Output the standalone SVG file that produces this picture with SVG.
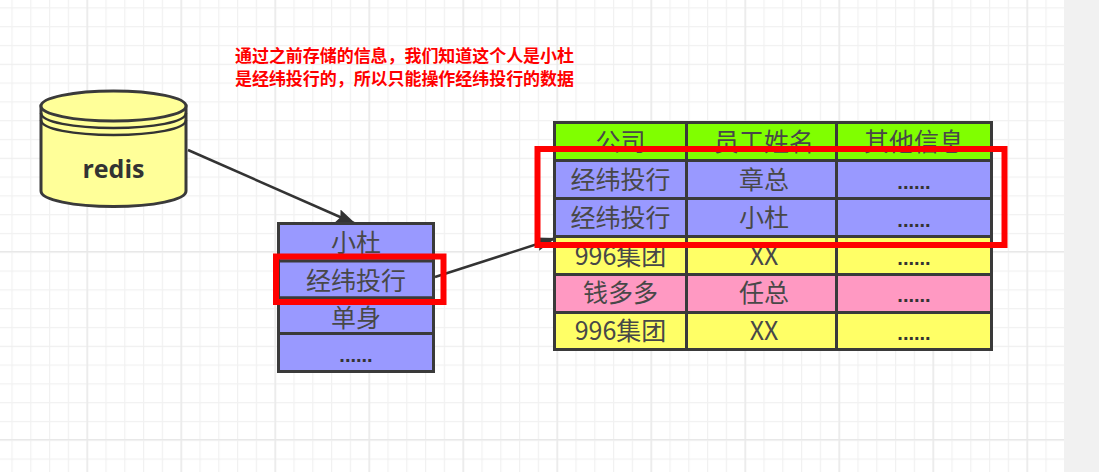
<svg xmlns="http://www.w3.org/2000/svg" width="1099" height="472" viewBox="0 0 1099 472">
<style>
.cell{stroke:#3a3a3a;stroke-width:3}
.t{font-family:"Noto Sans CJK SC","Noto Sans",sans-serif;font-size:25px;fill:#484848;text-anchor:middle}
.d{font-family:"Liberation Sans",sans-serif;font-size:20px;font-weight:700;fill:#333;text-anchor:middle}
.red{font-family:"Noto Sans CJK SC",sans-serif;font-size:17px;font-weight:700;fill:#f00}
.hl{fill:none;stroke:#f00;stroke-width:6}
.c{fill:none;stroke:#333;stroke-width:2.500}
.bl{fill:#9999ff}.gr{fill:#80ff00}.ye{fill:#ffff66}.pi{fill:#ff99c2}
</style>
<defs>
<pattern id="g" width="18.8" height="18.8" patternUnits="userSpaceOnUse" x="-7.4" y="-11.5">
<path d="M0 .5H18.8M.5 0V18.8" fill="none" stroke="#f1f1f1" stroke-width="1.5"/>
</pattern>
<pattern id="G" width="94" height="94" patternUnits="userSpaceOnUse" x="-7.4" y="-31">
<path d="M0 .5H94M.5 0V94" fill="none" stroke="#e8e8e8" stroke-width="1.5"/>
</pattern>
<marker id="a" markerUnits="userSpaceOnUse" markerWidth="22" markerHeight="16" refX="20" refY="8" orient="auto">
<path d="M0 1L20 8L0 15L3 8Z" fill="#333"/>
</marker>
</defs>
<rect width="1099" height="472" fill="#fff"/>
<rect width="1064" height="472" fill="url(#g)"/>
<rect width="1064" height="472" fill="url(#G)"/>
<rect x="1064" width="35" height="472" fill="#f1f1f1"/>
<g id="connectors">
<path class="c" d="M188 150L356 224" marker-end="url(#a)"/>
<path class="c" d="M435 277L556 238" marker-end="url(#a)"/>
</g>
<g id="redis">
<path d="M41 106V191C41 200 74 206.500 113.500 206.500S186 200 186 191V106Z" fill="#ffff99" class="cell"/>
<ellipse cx="113.500" cy="106" rx="72.500" ry="15" fill="#ffff99" class="cell"/>
<path class="c" d="M41 113C41 122 74 128 113.500 128S186 122 186 113M41 120C41 129 74 135 113.500 135S186 129 186 120"/>
<text x="113.500" y="177.500" text-anchor="middle" font-family="Open Sans,sans-serif" font-weight="700" font-size="25" fill="#333">redis</text>
</g>
<g id="record">
<rect class="cell bl" x="278.500" y="223.500" width="155" height="37.500"/>
<rect class="cell bl" x="278.500" y="261" width="155" height="37"/>
<rect class="cell bl" x="278.500" y="298" width="155" height="35.500"/>
<rect class="cell bl" x="278.500" y="333.500" width="155" height="38"/>
<text class="t" x="356" y="252">小杜</text>
<text class="t" x="356" y="290">经纬投行</text>
<text class="t" x="356" y="327">单身</text>
<text class="d" x="356" y="362">......</text>
</g>
<g id="table">
<rect class="cell gr" x="554.500" y="122.500" width="132" height="38"/><rect class="cell gr" x="686.500" y="122.500" width="150" height="38"/><rect class="cell gr" x="836.500" y="122.500" width="155" height="38"/>
<rect class="cell bl" x="554.500" y="160.500" width="132" height="38"/><rect class="cell bl" x="686.500" y="160.500" width="150" height="38"/><rect class="cell bl" x="836.500" y="160.500" width="155" height="38"/>
<rect class="cell bl" x="554.500" y="198.500" width="132" height="38"/><rect class="cell bl" x="686.500" y="198.500" width="150" height="38"/><rect class="cell bl" x="836.500" y="198.500" width="155" height="38"/>
<rect class="cell ye" x="554.500" y="236.500" width="132" height="38"/><rect class="cell ye" x="686.500" y="236.500" width="150" height="38"/><rect class="cell ye" x="836.500" y="236.500" width="155" height="38"/>
<rect class="cell pi" x="554.500" y="274.500" width="132" height="38"/><rect class="cell pi" x="686.500" y="274.500" width="150" height="38"/><rect class="cell pi" x="836.500" y="274.500" width="155" height="38"/>
<rect class="cell ye" x="554.500" y="312.500" width="132" height="37"/><rect class="cell ye" x="686.500" y="312.500" width="150" height="37"/><rect class="cell ye" x="836.500" y="312.500" width="155" height="37"/>
<text class="t" x="620.500" y="151">公司</text><text class="t" x="764" y="151">员工姓名</text><text class="t" x="914" y="151">其他信息</text>
<text class="t" x="620.500" y="189">经纬投行</text><text class="t" x="764" y="189">章总</text><text class="d" x="914" y="189">......</text>
<text class="t" x="620.500" y="227">经纬投行</text><text class="t" x="764" y="227">小杜</text><text class="d" x="914" y="227">......</text>
<text class="t" x="620.500" y="265">996集团</text><text class="t" x="764" y="265">XX</text><text class="d" x="914" y="265">......</text>
<text class="t" x="620.500" y="302">钱多多</text><text class="t" x="764" y="302">任总</text><text class="d" x="914" y="302">......</text>
<text class="t" x="620.500" y="340">996集团</text><text class="t" x="764" y="340">XX</text><text class="d" x="914" y="340">......</text>
</g>
<g id="highlights">
<rect class="hl" x="537.500" y="149" width="467" height="96"/>
<rect class="hl" x="276" y="256.500" width="167.500" height="45.500"/>
</g>
<g id="note">
<text class="red" x="235" y="62" textLength="339">通过之前存储的信息，我们知道这个人是小杜</text>
<text class="red" x="235" y="85" textLength="339">是经纬投行的，所以只能操作经纬投行的数据</text>
</g>
</svg>
